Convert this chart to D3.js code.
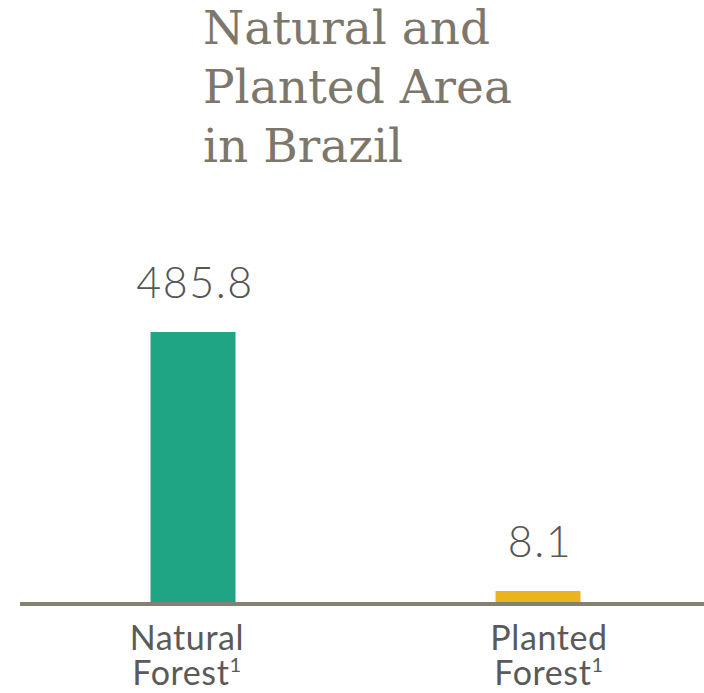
<!DOCTYPE html>
<meta charset="utf-8">
<style>
    body { margin: 0; background: #fff; }
    .title { font-family: "DejaVu Serif", serif; fill: #7d776b; font-size: 47px; }
    .value { font-family: Lato, sans-serif; font-weight: 300; fill: #555; font-size: 43px; letter-spacing: 1.5px; }
    .label { font-family: Lato, sans-serif; font-weight: 400; fill: #5a5a5a; font-size: 34px; letter-spacing: 0.6px; }
    .baseline { stroke: #85806f; stroke-width: 4; }
</style>
<body></body>
<script src="https://d3js.org/d3.v7.min.js"></script>
<script>
    var width = 704, height = 693;

    // data
    var categories = ["Natural Forest", "Planted Forest"];
    var values = [485.8, 8.1];
    var valueLabels = ["485.8", "8.1"];
    var labelLines = [["Natural", "Forest"], ["Planted", "Forest"]];
    var colors = ["#20a584", "#ecb31d"];
    var titleLines = ["Natural and", "Planted Area", "in Brazil"];

    var svg = d3.select("body").append("svg")
        .attr("width", width)
        .attr("height", height);

    var x = d3.scalePoint()
        .domain(categories)
        .range([193, 538]);

    // category labels sit a bit off the bar centres
    var xLabel = d3.scalePoint()
        .domain(categories)
        .range([187, 549]);

    var y = d3.scaleLinear()
        .domain([0, d3.max(values)])
        .range([602, 332]);

    var barWidth = 85, minBar = 11;

    // title
    svg.append("text")
        .attr("class", "title")
        .selectAll("tspan")
        .data(titleLines)
        .join("tspan")
        .attr("x", 203)
        .attr("y", function(d, i) { return 44 + i * 59; })
        .text(function(d) { return d; });

    var data = categories.map(function(c, i) {
        return {cat: c, v: values[i], lbl: valueLabels[i], lines: labelLines[i], color: colors[i]};
    });

    function barTop(d) {
        return Math.min(y(d.v), y(0) - minBar);
    }

    svg.selectAll(".bar")
        .data(data)
        .join("rect")
        .attr("class", "bar")
        .attr("x", function(d) { return x(d.cat) - barWidth / 2; })
        .attr("y", barTop)
        .attr("width", barWidth)
        .attr("height", function(d) { return y(0) - barTop(d); })
        .attr("fill", function(d) { return d.color; });

    svg.selectAll(".value")
        .data(data)
        .join("text")
        .attr("class", "value")
        .attr("x", function(d) { return x(d.cat) + 2; })
        .attr("y", function(d) { return barTop(d) - 34; })
        .attr("text-anchor", "middle")
        .text(function(d) { return d.lbl; });

    svg.append("line")
        .attr("class", "baseline")
        .attr("x1", 20).attr("x2", width)
        .attr("y1", 604).attr("y2", 604);

    // first line of each label
    svg.selectAll(".label1")
        .data(data)
        .join("text")
        .attr("class", "label label1")
        .attr("text-anchor", "middle")
        .attr("x", function(d) { return xLabel(d.cat); })
        .attr("y", 650)
        .text(function(d) { return d.lines[0]; });

    // second line with footnote mark
    var l2 = svg.selectAll(".label2")
        .data(data)
        .join("text")
        .attr("class", "label label2")
        .attr("text-anchor", "middle")
        .attr("x", function(d) { return xLabel(d.cat); })
        .attr("y", 685);
    l2.append("tspan").text(function(d) { return d.lines[1]; });
    l2.append("tspan")
        .attr("font-size", "20px")
        .attr("dy", -13)
        .text("1");
</script>
